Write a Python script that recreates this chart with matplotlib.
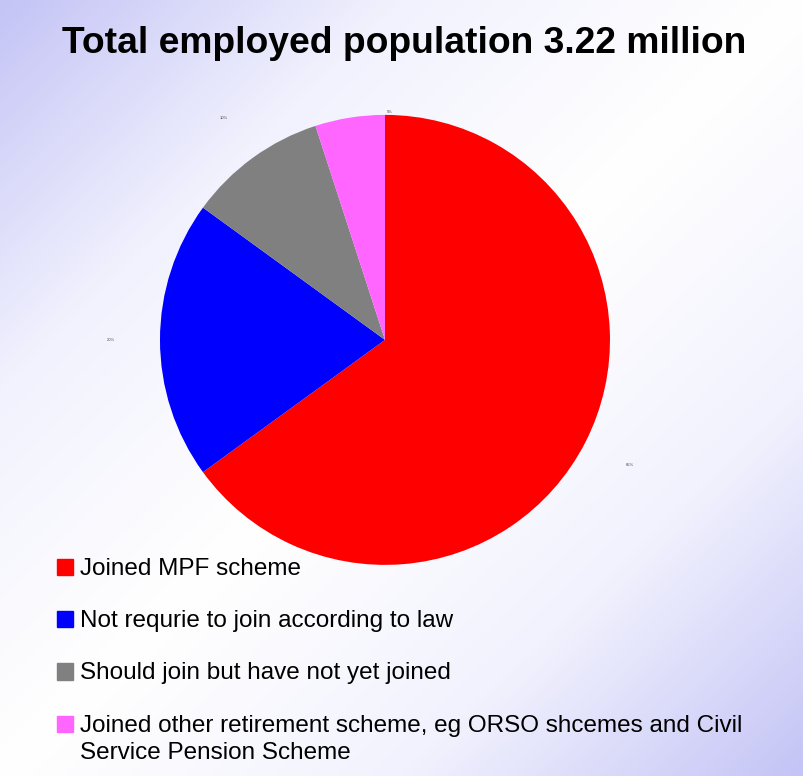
import numpy as np
import matplotlib.pyplot as plt
from matplotlib.colors import LinearSegmentedColormap
from matplotlib.patches import Rectangle

plt.rcParams['font.family'] = ['Liberation Sans', 'DejaVu Sans']

title = 'Total employed population 3.22 million'
categories = ['Joined MPF scheme',
              'Not requrie to join according to law',
              'Should join but have not yet joined',
              'Joined other retirement scheme, eg ORSO shcemes and Civil\nService Pension Scheme']
shares = [65, 20, 10, 5]
colors = ['#ff0000', '#0000ff', '#808080', '#ff66ff']

fig = plt.figure(figsize=(8.04, 7.76), dpi=100)

# diagonal background: lavender corners, white through the middle
bg = fig.add_axes([0, 0, 1, 1], zorder=0)
yy, xx = np.mgrid[0:1:200j, 0:1:200j]
t = (xx + yy) / 2.0
bg_cmap = LinearSegmentedColormap.from_list(
    'bg', ['#c4c4f6', '#f2f2fe', '#ffffff', '#f2f2fe', '#c4c4f6'], N=256)
bg.imshow(t, cmap=bg_cmap, aspect='auto', extent=[0, 1, 0, 1], origin='upper')
bg.axis('off')

fig.text(0.503, 0.944, title, ha='center', va='center',
         fontsize=26.8, fontweight='bold')

ax = fig.add_axes([0.199, 0.272, 0.5597, 0.58], zorder=1)
wedges, texts, autotexts = ax.pie(shares, colors=colors, startangle=90,
                                  counterclock=False, autopct='%1.0f%%',
                                  pctdistance=1.22,
                                  wedgeprops=dict(linewidth=0))
for a in autotexts:
    a.set_fontsize(3)
    a.set_color('#444444')
# the small slice's label sits right on the rim at the top
autotexts[3].set_position((0.02, 1.005))
autotexts[3].set_va('bottom')
ax.set_xlim(-1, 1)
ax.set_ylim(-1, 1)
ax.set_aspect('equal')
ax.axis('off')

# legend drawn as rows of square markers and text
y0 = 0.270
step = 0.0675
for i, (lab, c) in enumerate(zip(categories, colors)):
    y = y0 - i * step
    fig.patches.append(Rectangle((0.071, y - 0.011), 0.020, 0.021,
                                 transform=fig.transFigure, color=c,
                                 zorder=2))
    fig.text(0.099, y + 0.0115, lab, ha='left', va='top', fontsize=17.5,
             linespacing=1.3, zorder=2)

fig.savefig('out.png', dpi=100)
